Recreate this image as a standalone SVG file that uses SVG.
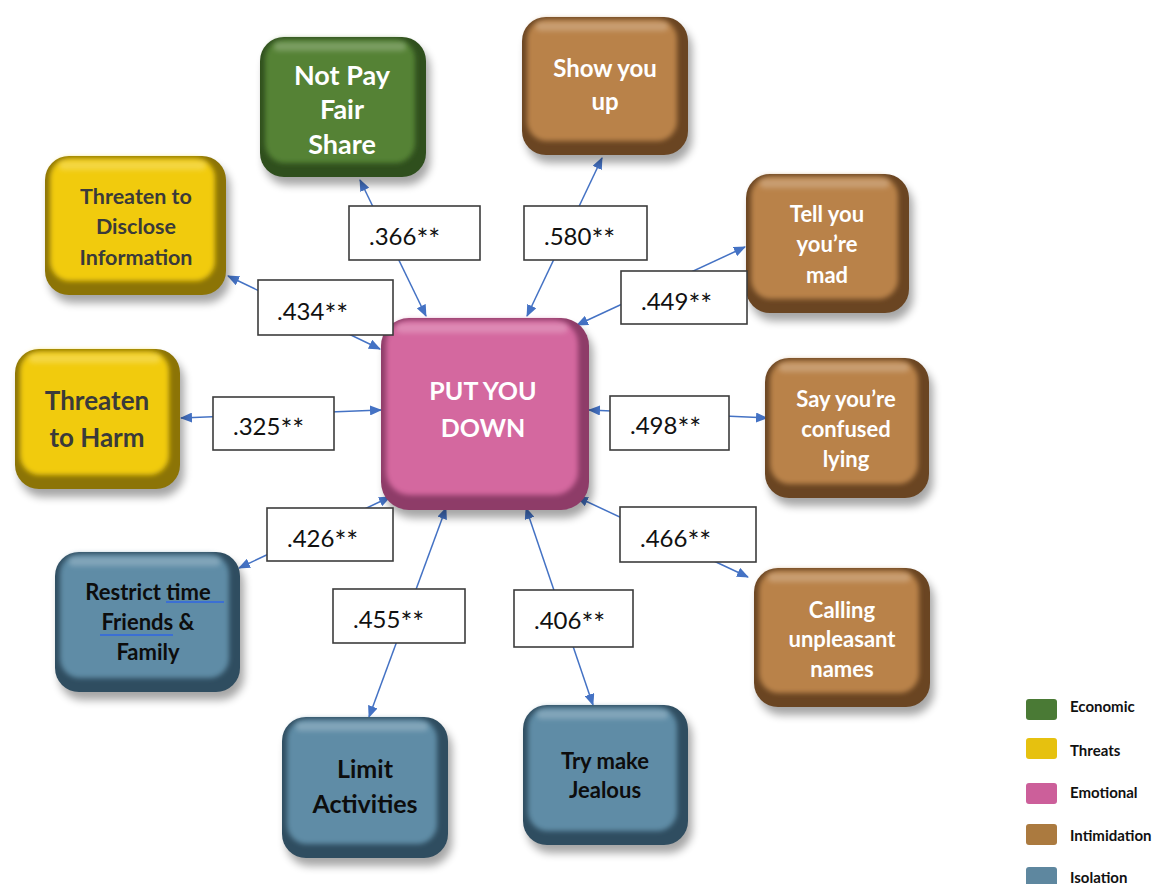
<svg xmlns="http://www.w3.org/2000/svg" width="1162" height="884" viewBox="0 0 1162 884">
<defs>
<filter id="shadow" x="-20%" y="-20%" width="140%" height="150%"><feGaussianBlur stdDeviation="4"/></filter>
<filter id="soft" x="-10%" y="-10%" width="120%" height="120%"><feGaussianBlur stdDeviation="2.5"/></filter>
<filter id="hl" x="-10%" y="-50%" width="120%" height="200%"><feGaussianBlur stdDeviation="2.5"/></filter>
<marker id="ah" viewBox="0 0 12 10" refX="11" refY="5" markerWidth="12" markerHeight="10" markerUnits="userSpaceOnUse" orient="auto-start-reverse"><path d="M0,0 L12,5 L0,10 Z" fill="#4472c4"/></marker>
<style>
.sh{fill:#000;opacity:.35;filter:url(#shadow)}
.face{filter:url(#soft)}
.hi{fill:#fff;opacity:.22;filter:url(#hl)}
.green .edge{fill:#2f4f1d}.green .face{fill:#548235}
.yellow .edge{fill:#8c7406}.yellow .face{fill:#f1cb10}
.pink .edge{fill:#8e3c68}.pink .face{fill:#d4679f}
.brown .edge{fill:#6a4522}.brown .face{fill:#b9824a}
.blue .edge{fill:#2f4d60}.blue .face{fill:#5f8ca6}
.t{font-family:Lato,"Open Sans",sans-serif;font-weight:700;text-anchor:middle}
.green .t,.pink .t,.brown .t{fill:#fff}
.yellow .t{fill:#3a3a3a}
.blue .t{fill:#0d0d0d}
.conn line{stroke:#4472c4;stroke-width:1.5;marker-start:url(#ah);marker-end:url(#ah)}
.lbl rect{fill:#fff;stroke:#3c3c3c;stroke-width:1.6}
.lbl text{font-family:Lato,"Open Sans",sans-serif;font-size:24px;fill:#111}
.lbl tspan{font-size:28px}
.leg text{font-family:Lato,"Open Sans",sans-serif;font-weight:700;font-size:15px;fill:#111}
</style>
</defs>
<rect width="1162" height="884" fill="#fff"/>

<g id="connectors" class="conn">
<line x1="360" y1="180" x2="426" y2="316"/>
<line x1="602" y1="158" x2="527" y2="316"/>
<line x1="745" y1="247" x2="577" y2="325"/>
<line x1="228" y1="276" x2="380" y2="349"/>
<line x1="181" y1="418" x2="381" y2="410"/>
<line x1="589" y1="410" x2="767" y2="418"/>
<line x1="577" y1="497" x2="748" y2="577"/>
<line x1="390" y1="497" x2="239" y2="568"/>
<line x1="446" y1="508" x2="369" y2="717"/>
<line x1="526" y1="508" x2="593" y2="705"/>
</g>

<g id="n-notpay" class="green">
<rect class="sh" x="264" y="45" width="166" height="140" rx="24"/>
<rect class="edge" x="260" y="37" width="166" height="140" rx="24"/>
<rect class="face" x="265" y="39" width="150" height="124" rx="20"/>
<rect class="hi" x="274" y="42" width="132" height="9" rx="4"/>
<text class="t" font-size="27" x="342" y="85">Not Pay</text>
<text class="t" font-size="27" x="342" y="119">Fair</text>
<text class="t" font-size="27" x="342" y="154">Share</text>
</g>

<g id="n-showup" class="brown">
<rect class="sh" x="526" y="25" width="166" height="138" rx="24"/>
<rect class="edge" x="522" y="17" width="166" height="138" rx="24"/>
<rect class="face" x="527" y="19" width="150" height="122" rx="20"/>
<rect class="hi" x="536" y="22" width="132" height="9" rx="4"/>
<text class="t" font-size="24" x="605" y="77">Show you</text>
<text class="t" font-size="24" x="605" y="110">up</text>
</g>

<g id="n-disclose" class="yellow">
<rect class="sh" x="49" y="164" width="181" height="139" rx="24"/>
<rect class="edge" x="45" y="156" width="181" height="139" rx="24"/>
<rect class="face" x="50" y="158" width="165" height="123" rx="20"/>
<rect class="hi" x="59" y="161" width="147" height="9" rx="4"/>
<text class="t" font-size="21.5" x="136" y="204">Threaten to</text>
<text class="t" font-size="21.5" x="136" y="234">Disclose</text>
<text class="t" font-size="21.5" x="136" y="265">Information</text>
</g>

<g id="n-tellmad" class="brown">
<rect class="sh" x="750" y="182" width="163" height="139" rx="24"/>
<rect class="edge" x="746" y="174" width="163" height="139" rx="24"/>
<rect class="face" x="751" y="176" width="147" height="123" rx="20"/>
<rect class="hi" x="760" y="179" width="129" height="9" rx="4"/>
<text class="t" font-size="22" x="827" y="222">Tell you</text>
<text class="t" font-size="22" x="827" y="252">you’re</text>
<text class="t" font-size="22" x="827" y="283">mad</text>
</g>

<g id="n-harm" class="yellow">
<rect class="sh" x="19" y="357" width="165" height="140" rx="24"/>
<rect class="edge" x="15" y="349" width="165" height="140" rx="24"/>
<rect class="face" x="20" y="351" width="149" height="124" rx="20"/>
<rect class="hi" x="29" y="354" width="131" height="9" rx="4"/>
<text class="t" font-size="26" x="97" y="410">Threaten</text>
<text class="t" font-size="26" x="97" y="447">to Harm</text>
</g>

<g id="n-putdown" class="pink">
<rect class="sh" x="385" y="326" width="208" height="192" rx="28"/>
<rect class="edge" x="381" y="318" width="208" height="192" rx="28"/>
<rect class="face" x="386" y="320" width="192" height="175" rx="24"/>
<rect class="hi" x="396" y="323" width="172" height="10" rx="5"/>
<text class="t" font-size="25" x="483" y="400">PUT YOU</text>
<text class="t" font-size="25" x="483" y="437">DOWN</text>
</g>

<g id="n-confused" class="brown">
<rect class="sh" x="769" y="366" width="164" height="140" rx="24"/>
<rect class="edge" x="765" y="358" width="164" height="140" rx="24"/>
<rect class="face" x="770" y="360" width="148" height="124" rx="20"/>
<rect class="hi" x="779" y="363" width="130" height="9" rx="4"/>
<text class="t" font-size="22" x="846" y="407">Say you’re</text>
<text class="t" font-size="22" x="846" y="437">confused</text>
<text class="t" font-size="22" x="846" y="467">lying</text>
</g>

<g id="n-restrict" class="blue">
<rect class="sh" x="59" y="560" width="185" height="140" rx="24"/>
<rect class="edge" x="55" y="552" width="185" height="140" rx="24"/>
<rect class="face" x="60" y="554" width="169" height="124" rx="20"/>
<rect class="hi" x="69" y="557" width="151" height="9" rx="4"/>
<text class="t" font-size="22" x="148" y="600">Restrict time</text>
<text class="t" font-size="22" x="148" y="630">Friends &amp;</text>
<text class="t" font-size="22" x="148" y="660">Family</text>
<line x1="166" y1="602" x2="224" y2="602" stroke="#3b6fd4" stroke-width="2.2"/>
<line x1="100" y1="635" x2="173" y2="635" stroke="#3b6fd4" stroke-width="2.2"/>
</g>

<g id="n-calling" class="brown">
<rect class="sh" x="758" y="576" width="176" height="139" rx="24"/>
<rect class="edge" x="754" y="568" width="176" height="139" rx="24"/>
<rect class="face" x="759" y="570" width="160" height="123" rx="20"/>
<rect class="hi" x="768" y="573" width="142" height="9" rx="4"/>
<text class="t" font-size="22" x="842" y="618">Calling</text>
<text class="t" font-size="22" x="842" y="647">unpleasant</text>
<text class="t" font-size="22" x="842" y="677">names</text>
</g>

<g id="n-limit" class="blue">
<rect class="sh" x="286" y="725" width="166" height="141" rx="24"/>
<rect class="edge" x="282" y="717" width="166" height="141" rx="24"/>
<rect class="face" x="287" y="719" width="150" height="125" rx="20"/>
<rect class="hi" x="296" y="722" width="132" height="9" rx="4"/>
<text class="t" font-size="25" x="365" y="778">Limit</text>
<text class="t" font-size="25" x="365" y="813">Activities</text>
</g>

<g id="n-jealous" class="blue">
<rect class="sh" x="527" y="713" width="165" height="140" rx="24"/>
<rect class="edge" x="523" y="705" width="165" height="140" rx="24"/>
<rect class="face" x="528" y="707" width="149" height="124" rx="20"/>
<rect class="hi" x="537" y="710" width="131" height="9" rx="4"/>
<text class="t" font-size="22" x="605" y="769">Try make</text>
<text class="t" font-size="22" x="605" y="798">Jealous</text>
</g>

<g id="labels" class="lbl">
<g id="l-366"><rect x="349" y="206" width="131" height="54"/><text x="369" y="245">.366<tspan dy="5">**</tspan></text></g>
<g id="l-580"><rect x="524" y="206" width="123" height="54"/><text x="544" y="245">.580<tspan dy="5">**</tspan></text></g>
<g id="l-449"><rect x="621" y="271" width="126" height="53"/><text x="641" y="310">.449<tspan dy="5">**</tspan></text></g>
<g id="l-434"><rect x="258" y="280" width="135" height="55"/><text x="277" y="320">.434<tspan dy="5">**</tspan></text></g>
<g id="l-325"><rect x="213" y="397" width="121" height="53"/><text x="233" y="435">.325<tspan dy="5">**</tspan></text></g>
<g id="l-498"><rect x="610" y="396" width="119" height="54"/><text x="630" y="434">.498<tspan dy="5">**</tspan></text></g>
<g id="l-426"><rect x="267" y="508" width="126" height="53"/><text x="287" y="547">.426<tspan dy="5">**</tspan></text></g>
<g id="l-466"><rect x="620" y="507" width="136" height="55"/><text x="640" y="547">.466<tspan dy="5">**</tspan></text></g>
<g id="l-455"><rect x="333" y="589" width="132" height="54"/><text x="353" y="628">.455<tspan dy="5">**</tspan></text></g>
<g id="l-406"><rect x="514" y="590" width="119" height="57"/><text x="534" y="629">.406<tspan dy="5">**</tspan></text></g>
</g>

<g id="legend" class="leg">
<rect x="1026" y="699" width="31" height="21" rx="3" fill="#4a7a35"/><text x="1070" y="712">Economic</text>
<rect x="1026" y="738" width="31" height="21" rx="3" fill="#e6c10f"/><text x="1070" y="756">Threats</text>
<rect x="1026" y="783" width="31" height="21" rx="3" fill="#cc5f9a"/><text x="1070" y="798">Emotional</text>
<rect x="1026" y="824" width="31" height="21" rx="3" fill="#ab7a3f"/><text x="1070" y="841">Intimidation</text>
<rect x="1026" y="867" width="31" height="21" rx="3" fill="#5e879f"/><text x="1070" y="883">Isolation</text>
</g>
</svg>
